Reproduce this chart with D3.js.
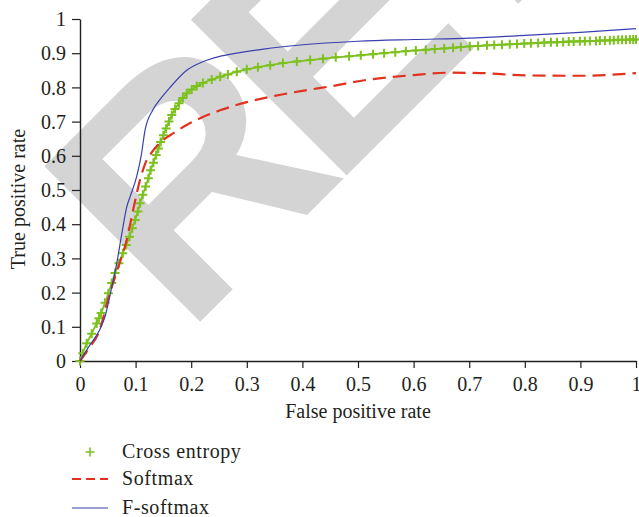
<!DOCTYPE html>
<html>
<head>
<meta charset="utf-8">
<script src="https://cdn.jsdelivr.net/npm/d3@7"></script>
<style>
  body { margin: 0; background: #fff; }
  text { font-family: "Liberation Serif", "DejaVu Serif", serif; fill: #231f20; }
</style>
</head>
<body>
<svg id="chart" width="639" height="517"></svg>
<script>
const width = 639
const height = 517
const margin = { top: 19, left: 80, right: 3, bottom: 156 }

// series (false positive rate, true positive rate)
const crossEntropyFpr = [0, 0.005, 0.012, 0.021, 0.030, 0.034, 0.038, 0.045, 0.051, 0.057, 0.063, 0.070, 0.077, 0.083, 0.089, 0.094, 0.099, 0.104, 0.108, 0.113, 0.118, 0.123, 0.127, 0.132, 0.137, 0.141, 0.145, 0.150, 0.155, 0.160, 0.165, 0.171, 0.178, 0.185, 0.192, 0.201, 0.210, 0.221, 0.237, 0.252, 0.266, 0.282, 0.300, 0.320, 0.342, 0.365, 0.390, 0.414, 0.437, 0.460, 0.484, 0.505, 0.527, 0.547, 0.567, 0.586, 0.604, 0.622, 0.638, 0.655, 0.671, 0.685, 0.701, 0.716, 0.732, 0.745, 0.759, 0.773, 0.786, 0.799, 0.811, 0.824, 0.835, 0.847, 0.858, 0.869, 0.879, 0.888, 0.899, 0.908, 0.917, 0.928, 0.935, 0.944, 0.953, 0.960, 0.968, 0.975, 0.982, 0.989, 0.995, 1.0]
const crossEntropyTpr = [0, 0.023, 0.052, 0.080, 0.110, 0.125, 0.140, 0.170, 0.198, 0.228, 0.257, 0.286, 0.315, 0.339, 0.363, 0.388, 0.412, 0.437, 0.461, 0.486, 0.510, 0.534, 0.558, 0.580, 0.602, 0.621, 0.640, 0.660, 0.680, 0.700, 0.719, 0.737, 0.754, 0.769, 0.783, 0.794, 0.804, 0.813, 0.823, 0.831, 0.838, 0.846, 0.853, 0.859, 0.865, 0.871, 0.876, 0.880, 0.884, 0.888, 0.891, 0.894, 0.897, 0.900, 0.903, 0.906, 0.908, 0.910, 0.912, 0.914, 0.916, 0.918, 0.920, 0.921, 0.923, 0.924, 0.925, 0.926, 0.927, 0.928, 0.929, 0.930, 0.931, 0.932, 0.932, 0.933, 0.934, 0.934, 0.935, 0.935, 0.936, 0.936, 0.937, 0.937, 0.938, 0.938, 0.939, 0.939, 0.939, 0.940, 0.940, 0.940]

const softmaxFpr = [0, 0.015, 0.034, 0.054, 0.070, 0.084, 0.096, 0.108, 0.118, 0.130, 0.145, 0.162, 0.192, 0.216, 0.252, 0.300, 0.350, 0.400, 0.450, 0.516, 0.600, 0.665, 0.720, 0.800, 0.900, 1.0]
const softmaxTpr = [0, 0.035, 0.085, 0.200, 0.280, 0.354, 0.445, 0.530, 0.580, 0.612, 0.640, 0.660, 0.690, 0.710, 0.733, 0.757, 0.775, 0.790, 0.803, 0.822, 0.836, 0.843, 0.842, 0.835, 0.834, 0.842]

const fSoftmaxFpr = [0, 0.015, 0.035, 0.045, 0.055, 0.066, 0.075, 0.084, 0.090, 0.102, 0.110, 0.117, 0.131, 0.144, 0.162, 0.192, 0.221, 0.250, 0.282, 0.330, 0.396, 0.500, 0.600, 0.700, 0.800, 0.900, 1.0]
const fSoftmaxTpr = [0, 0.040, 0.090, 0.130, 0.200, 0.285, 0.370, 0.450, 0.480, 0.540, 0.600, 0.675, 0.734, 0.765, 0.800, 0.850, 0.875, 0.890, 0.900, 0.912, 0.924, 0.935, 0.940, 0.944, 0.952, 0.961, 0.972]

const xTicks = [0, 0.1, 0.2, 0.3, 0.4, 0.5, 0.6, 0.7, 0.8, 0.9, 1]
const yTicks = [0, 0.1, 0.2, 0.3, 0.4, 0.5, 0.6, 0.7, 0.8, 0.9, 1]
const legendLabels = ['Cross entropy', 'Softmax', 'F-softmax']

const green = '#7dc11f'
const red = '#e0321f'
const blue = '#3b3fae'

const svg = d3.select('#chart')

// grey watermark behind the plot
svg.append('text')
  .attr('transform', 'translate(185,337) rotate(-45)')
  .style('font-family', '"Liberation Sans", Arial, sans-serif')
  .style('font-weight', 'bold')
  .style('font-size', '320px')
  .style('letter-spacing', '-24px')
  .style('fill', '#d4d4d4')
  .text('RETRACTED')

const x = d3.scaleLinear().domain([0, 1]).range([margin.left, width - margin.right])
const y = d3.scaleLinear().domain([0, 1]).range([height - margin.bottom, margin.top])

const fmt = d => d === 0 || d === 1 ? String(d) : d3.format('.1f')(d)

const xAxis = svg.append('g')
  .attr('transform', `translate(0,${y(0)})`)
  .call(d3.axisBottom(x).tickValues(xTicks).tickFormat(fmt).tickSize(7).tickSizeOuter(0))
const yAxis = svg.append('g')
  .attr('transform', `translate(${x(0)},0)`)
  .call(d3.axisLeft(y).tickValues(yTicks).tickFormat(fmt).tickSize(8).tickSizeOuter(0))

for (const ax of [xAxis, yAxis]) {
  ax.select('.domain').attr('stroke', '#231f20').attr('stroke-width', 1.4)
  ax.selectAll('.tick line').attr('stroke', '#231f20').attr('stroke-width', 1.2)
  ax.selectAll('.tick text')
    .attr('fill', '#231f20')
    .style('font-family', '"Liberation Serif", serif')
    .style('font-size', '20px')
}
xAxis.selectAll('.tick text').attr('dy', null).attr('y', 30)
yAxis.selectAll('.tick text').attr('x', -14).attr('dy', '0.33em')

svg.append('text')
  .attr('x', (x(0) + x(1)) / 2)
  .attr('y', 418)
  .attr('text-anchor', 'middle')
  .style('font-size', '20px')
  .text('False positive rate')

svg.append('text')
  .attr('transform', `translate(25,199) rotate(-90)`)
  .attr('text-anchor', 'middle')
  .style('font-size', '20px')
  .text('True positive rate')

function toPoints (fpr, tpr) {
  return fpr.map((v, i) => ({ fpr: v, tpr: tpr[i] }))
}

const line = d3.line()
  .x(d => x(d.fpr))
  .y(d => y(d.tpr))
  .curve(d3.curveMonotoneX)

const plusPath = 'M-4.5,0H4.5M0,-4.5V4.5'

const ceData = toPoints(crossEntropyFpr, crossEntropyTpr)
svg.append('path')
  .datum(ceData)
  .attr('fill', 'none')
  .attr('stroke', green)
  .attr('stroke-width', 1.8)
  .attr('d', d3.line().x(d => x(d.fpr)).y(d => y(d.tpr)))

svg.append('g')
  .selectAll('path')
  .data(ceData)
  .enter()
  .append('path')
  .attr('transform', d => `translate(${x(d.fpr)},${y(d.tpr)})`)
  .attr('d', plusPath)
  .attr('stroke', green)
  .attr('stroke-width', 2)

svg.append('path')
  .datum(toPoints(softmaxFpr, softmaxTpr))
  .attr('fill', 'none')
  .attr('stroke', red)
  .attr('stroke-width', 2.2)
  .attr('stroke-dasharray', '13,7')
  .attr('d', line)

svg.append('path')
  .datum(toPoints(fSoftmaxFpr, fSoftmaxTpr))
  .attr('fill', 'none')
  .attr('stroke', blue)
  .attr('stroke-width', 1.2)
  .attr('d', line)

// legend
const legend = svg.append('g')
const rowY = [452, 479, 508]

legend.append('path')
  .attr('transform', `translate(90,${rowY[0]})`)
  .attr('d', plusPath)
  .attr('stroke', green)
  .attr('stroke-width', 1.6)
legend.append('line')
  .attr('x1', 72).attr('x2', 108).attr('y1', rowY[1]).attr('y2', rowY[1])
  .attr('stroke', red).attr('stroke-width', 2).attr('stroke-dasharray', '9,5')
legend.append('line')
  .attr('x1', 72).attr('x2', 108).attr('y1', rowY[2]).attr('y2', rowY[2])
  .attr('stroke', blue).attr('stroke-width', 1.2)

legend.selectAll('text.label')
  .data(legendLabels)
  .enter()
  .append('text')
  .attr('class', 'label')
  .attr('x', 122)
  .attr('y', (d, i) => rowY[i] + 6)
  .style('font-size', '20px')
  .style('letter-spacing', '0.6px')
  .text(d => d)
</script>
</body>
</html>
